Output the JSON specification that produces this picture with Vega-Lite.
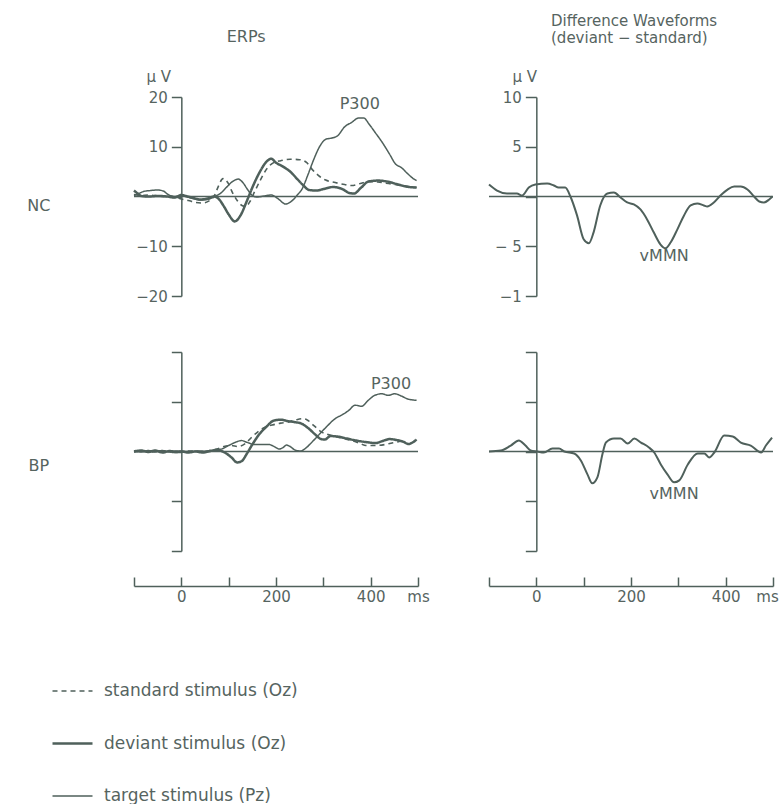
{
  "$schema": "https://vega.github.io/schema/vega-lite/v6.json",
  "padding": {"left": 27, "top": 14, "right": 5, "bottom": 0},
  "background": "white",
  "config": {
    "font": "DejaVu Sans",
    "view": {"stroke": null},
    "axis": {"domainColor": "#4f605b", "tickColor": "#4f605b", "labelColor": "#56645f", "titleColor": "#56645f", "labelFont": "DejaVu Sans", "titleFont": "DejaVu Sans", "labelFontSize": 15, "grid": false, "domainWidth": 1.5, "tickWidth": 1.5, "labelOverlap": false},
    "text": {"font": "DejaVu Sans", "fontSize": 16, "color": "#56645f"},
    "line": {"color": "#4f605b", "interpolate": "monotone"},
    "rule": {"color": "#4f605b", "strokeWidth": 1.5}
  },
  "datasets": {
    "erp": [
      {"subject":"NC","stimulus":"standard stimulus (Oz)","t":-100,"v":0.4},{"subject":"NC","stimulus":"standard stimulus (Oz)","t":-85,"v":0.2},{"subject":"NC","stimulus":"standard stimulus (Oz)","t":-70,"v":0.3},{"subject":"NC","stimulus":"standard stimulus (Oz)","t":-55,"v":0.2},{"subject":"NC","stimulus":"standard stimulus (Oz)","t":-40,"v":0.0},{"subject":"NC","stimulus":"standard stimulus (Oz)","t":-25,"v":0.1},{"subject":"NC","stimulus":"standard stimulus (Oz)","t":-10,"v":-0.2},{"subject":"NC","stimulus":"standard stimulus (Oz)","t":0,"v":-0.5},{"subject":"NC","stimulus":"standard stimulus (Oz)","t":15,"v":-0.8},{"subject":"NC","stimulus":"standard stimulus (Oz)","t":30,"v":-1.2},{"subject":"NC","stimulus":"standard stimulus (Oz)","t":45,"v":-1.3},{"subject":"NC","stimulus":"standard stimulus (Oz)","t":60,"v":-0.8},{"subject":"NC","stimulus":"standard stimulus (Oz)","t":70,"v":0.2},{"subject":"NC","stimulus":"standard stimulus (Oz)","t":78,"v":2.0},{"subject":"NC","stimulus":"standard stimulus (Oz)","t":88,"v":3.6},{"subject":"NC","stimulus":"standard stimulus (Oz)","t":98,"v":2.8},{"subject":"NC","stimulus":"standard stimulus (Oz)","t":108,"v":0.8},{"subject":"NC","stimulus":"standard stimulus (Oz)","t":118,"v":-0.8},{"subject":"NC","stimulus":"standard stimulus (Oz)","t":128,"v":-1.8},{"subject":"NC","stimulus":"standard stimulus (Oz)","t":136,"v":-2.0},{"subject":"NC","stimulus":"standard stimulus (Oz)","t":145,"v":-1.0},{"subject":"NC","stimulus":"standard stimulus (Oz)","t":155,"v":1.0},{"subject":"NC","stimulus":"standard stimulus (Oz)","t":168,"v":3.5},{"subject":"NC","stimulus":"standard stimulus (Oz)","t":180,"v":5.5},{"subject":"NC","stimulus":"standard stimulus (Oz)","t":195,"v":6.8},{"subject":"NC","stimulus":"standard stimulus (Oz)","t":210,"v":7.2},{"subject":"NC","stimulus":"standard stimulus (Oz)","t":230,"v":7.5},{"subject":"NC","stimulus":"standard stimulus (Oz)","t":250,"v":7.4},{"subject":"NC","stimulus":"standard stimulus (Oz)","t":265,"v":6.8},{"subject":"NC","stimulus":"standard stimulus (Oz)","t":275,"v":5.6},{"subject":"NC","stimulus":"standard stimulus (Oz)","t":290,"v":4.2},{"subject":"NC","stimulus":"standard stimulus (Oz)","t":305,"v":3.3},{"subject":"NC","stimulus":"standard stimulus (Oz)","t":325,"v":2.8},{"subject":"NC","stimulus":"standard stimulus (Oz)","t":345,"v":2.4},{"subject":"NC","stimulus":"standard stimulus (Oz)","t":360,"v":2.2},{"subject":"NC","stimulus":"standard stimulus (Oz)","t":378,"v":2.6},{"subject":"NC","stimulus":"standard stimulus (Oz)","t":395,"v":3.0},{"subject":"NC","stimulus":"standard stimulus (Oz)","t":415,"v":2.9},{"subject":"NC","stimulus":"standard stimulus (Oz)","t":438,"v":2.6},{"subject":"NC","stimulus":"standard stimulus (Oz)","t":465,"v":2.2},{"subject":"NC","stimulus":"standard stimulus (Oz)","t":497,"v":1.8},
      {"subject":"NC","stimulus":"deviant stimulus (Oz)","t":-100,"v":1.2},{"subject":"NC","stimulus":"deviant stimulus (Oz)","t":-92,"v":0.6},{"subject":"NC","stimulus":"deviant stimulus (Oz)","t":-85,"v":0.1},{"subject":"NC","stimulus":"deviant stimulus (Oz)","t":-70,"v":0.0},{"subject":"NC","stimulus":"deviant stimulus (Oz)","t":-50,"v":0.1},{"subject":"NC","stimulus":"deviant stimulus (Oz)","t":-30,"v":0.0},{"subject":"NC","stimulus":"deviant stimulus (Oz)","t":-15,"v":-0.2},{"subject":"NC","stimulus":"deviant stimulus (Oz)","t":0,"v":0.3},{"subject":"NC","stimulus":"deviant stimulus (Oz)","t":10,"v":0.1},{"subject":"NC","stimulus":"deviant stimulus (Oz)","t":25,"v":-0.3},{"subject":"NC","stimulus":"deviant stimulus (Oz)","t":40,"v":-0.6},{"subject":"NC","stimulus":"deviant stimulus (Oz)","t":55,"v":-0.4},{"subject":"NC","stimulus":"deviant stimulus (Oz)","t":70,"v":0.0},{"subject":"NC","stimulus":"deviant stimulus (Oz)","t":80,"v":-0.6},{"subject":"NC","stimulus":"deviant stimulus (Oz)","t":90,"v":-2.0},{"subject":"NC","stimulus":"deviant stimulus (Oz)","t":100,"v":-3.6},{"subject":"NC","stimulus":"deviant stimulus (Oz)","t":113,"v":-5.0},{"subject":"NC","stimulus":"deviant stimulus (Oz)","t":125,"v":-3.8},{"subject":"NC","stimulus":"deviant stimulus (Oz)","t":138,"v":-1.0},{"subject":"NC","stimulus":"deviant stimulus (Oz)","t":150,"v":1.8},{"subject":"NC","stimulus":"deviant stimulus (Oz)","t":165,"v":4.8},{"subject":"NC","stimulus":"deviant stimulus (Oz)","t":180,"v":7.0},{"subject":"NC","stimulus":"deviant stimulus (Oz)","t":190,"v":7.6},{"subject":"NC","stimulus":"deviant stimulus (Oz)","t":200,"v":6.8},{"subject":"NC","stimulus":"deviant stimulus (Oz)","t":215,"v":6.0},{"subject":"NC","stimulus":"deviant stimulus (Oz)","t":230,"v":5.0},{"subject":"NC","stimulus":"deviant stimulus (Oz)","t":245,"v":3.5},{"subject":"NC","stimulus":"deviant stimulus (Oz)","t":258,"v":2.2},{"subject":"NC","stimulus":"deviant stimulus (Oz)","t":270,"v":1.3},{"subject":"NC","stimulus":"deviant stimulus (Oz)","t":285,"v":1.2},{"subject":"NC","stimulus":"deviant stimulus (Oz)","t":300,"v":1.5},{"subject":"NC","stimulus":"deviant stimulus (Oz)","t":320,"v":1.9},{"subject":"NC","stimulus":"deviant stimulus (Oz)","t":340,"v":1.5},{"subject":"NC","stimulus":"deviant stimulus (Oz)","t":355,"v":0.7},{"subject":"NC","stimulus":"deviant stimulus (Oz)","t":365,"v":0.6},{"subject":"NC","stimulus":"deviant stimulus (Oz)","t":380,"v":1.8},{"subject":"NC","stimulus":"deviant stimulus (Oz)","t":395,"v":3.0},{"subject":"NC","stimulus":"deviant stimulus (Oz)","t":415,"v":3.2},{"subject":"NC","stimulus":"deviant stimulus (Oz)","t":435,"v":3.0},{"subject":"NC","stimulus":"deviant stimulus (Oz)","t":455,"v":2.5},{"subject":"NC","stimulus":"deviant stimulus (Oz)","t":475,"v":2.0},{"subject":"NC","stimulus":"deviant stimulus (Oz)","t":497,"v":1.8},
      {"subject":"NC","stimulus":"target stimulus (Pz)","t":-100,"v":0.2},{"subject":"NC","stimulus":"target stimulus (Pz)","t":-90,"v":0.6},{"subject":"NC","stimulus":"target stimulus (Pz)","t":-80,"v":1.0},{"subject":"NC","stimulus":"target stimulus (Pz)","t":-65,"v":1.2},{"subject":"NC","stimulus":"target stimulus (Pz)","t":-50,"v":1.3},{"subject":"NC","stimulus":"target stimulus (Pz)","t":-38,"v":1.1},{"subject":"NC","stimulus":"target stimulus (Pz)","t":-28,"v":0.4},{"subject":"NC","stimulus":"target stimulus (Pz)","t":-15,"v":0.0},{"subject":"NC","stimulus":"target stimulus (Pz)","t":0,"v":0.1},{"subject":"NC","stimulus":"target stimulus (Pz)","t":20,"v":-0.3},{"subject":"NC","stimulus":"target stimulus (Pz)","t":40,"v":-0.7},{"subject":"NC","stimulus":"target stimulus (Pz)","t":55,"v":-0.6},{"subject":"NC","stimulus":"target stimulus (Pz)","t":70,"v":0.0},{"subject":"NC","stimulus":"target stimulus (Pz)","t":85,"v":0.8},{"subject":"NC","stimulus":"target stimulus (Pz)","t":95,"v":1.8},{"subject":"NC","stimulus":"target stimulus (Pz)","t":108,"v":3.0},{"subject":"NC","stimulus":"target stimulus (Pz)","t":120,"v":3.5},{"subject":"NC","stimulus":"target stimulus (Pz)","t":130,"v":2.8},{"subject":"NC","stimulus":"target stimulus (Pz)","t":140,"v":1.4},{"subject":"NC","stimulus":"target stimulus (Pz)","t":150,"v":0.2},{"subject":"NC","stimulus":"target stimulus (Pz)","t":160,"v":-0.1},{"subject":"NC","stimulus":"target stimulus (Pz)","t":175,"v":0.1},{"subject":"NC","stimulus":"target stimulus (Pz)","t":190,"v":0.3},{"subject":"NC","stimulus":"target stimulus (Pz)","t":205,"v":-0.5},{"subject":"NC","stimulus":"target stimulus (Pz)","t":220,"v":-1.5},{"subject":"NC","stimulus":"target stimulus (Pz)","t":232,"v":-1.0},{"subject":"NC","stimulus":"target stimulus (Pz)","t":245,"v":0.3},{"subject":"NC","stimulus":"target stimulus (Pz)","t":255,"v":1.5},{"subject":"NC","stimulus":"target stimulus (Pz)","t":268,"v":4.5},{"subject":"NC","stimulus":"target stimulus (Pz)","t":280,"v":7.5},{"subject":"NC","stimulus":"target stimulus (Pz)","t":292,"v":10.0},{"subject":"NC","stimulus":"target stimulus (Pz)","t":305,"v":11.5},{"subject":"NC","stimulus":"target stimulus (Pz)","t":320,"v":11.8},{"subject":"NC","stimulus":"target stimulus (Pz)","t":330,"v":12.2},{"subject":"NC","stimulus":"target stimulus (Pz)","t":345,"v":14.0},{"subject":"NC","stimulus":"target stimulus (Pz)","t":360,"v":14.9},{"subject":"NC","stimulus":"target stimulus (Pz)","t":375,"v":15.8},{"subject":"NC","stimulus":"target stimulus (Pz)","t":385,"v":15.8},{"subject":"NC","stimulus":"target stimulus (Pz)","t":397,"v":14.5},{"subject":"NC","stimulus":"target stimulus (Pz)","t":410,"v":12.8},{"subject":"NC","stimulus":"target stimulus (Pz)","t":425,"v":10.8},{"subject":"NC","stimulus":"target stimulus (Pz)","t":440,"v":8.5},{"subject":"NC","stimulus":"target stimulus (Pz)","t":452,"v":6.6},{"subject":"NC","stimulus":"target stimulus (Pz)","t":465,"v":5.8},{"subject":"NC","stimulus":"target stimulus (Pz)","t":478,"v":4.6},{"subject":"NC","stimulus":"target stimulus (Pz)","t":490,"v":3.6},{"subject":"NC","stimulus":"target stimulus (Pz)","t":497,"v":3.2},
      {"subject":"BP","stimulus":"standard stimulus (Oz)","t":-100,"v":-0.1},{"subject":"BP","stimulus":"standard stimulus (Oz)","t":-80,"v":0.1},{"subject":"BP","stimulus":"standard stimulus (Oz)","t":-60,"v":-0.1},{"subject":"BP","stimulus":"standard stimulus (Oz)","t":-40,"v":0.1},{"subject":"BP","stimulus":"standard stimulus (Oz)","t":-20,"v":-0.1},{"subject":"BP","stimulus":"standard stimulus (Oz)","t":0,"v":0.0},{"subject":"BP","stimulus":"standard stimulus (Oz)","t":20,"v":0.1},{"subject":"BP","stimulus":"standard stimulus (Oz)","t":40,"v":-0.1},{"subject":"BP","stimulus":"standard stimulus (Oz)","t":60,"v":0.2},{"subject":"BP","stimulus":"standard stimulus (Oz)","t":75,"v":0.5},{"subject":"BP","stimulus":"standard stimulus (Oz)","t":90,"v":1.0},{"subject":"BP","stimulus":"standard stimulus (Oz)","t":105,"v":1.2},{"subject":"BP","stimulus":"standard stimulus (Oz)","t":120,"v":1.0},{"subject":"BP","stimulus":"standard stimulus (Oz)","t":135,"v":1.6},{"subject":"BP","stimulus":"standard stimulus (Oz)","t":150,"v":3.0},{"subject":"BP","stimulus":"standard stimulus (Oz)","t":165,"v":4.2},{"subject":"BP","stimulus":"standard stimulus (Oz)","t":180,"v":5.0},{"subject":"BP","stimulus":"standard stimulus (Oz)","t":195,"v":5.4},{"subject":"BP","stimulus":"standard stimulus (Oz)","t":210,"v":5.7},{"subject":"BP","stimulus":"standard stimulus (Oz)","t":225,"v":5.9},{"subject":"BP","stimulus":"standard stimulus (Oz)","t":240,"v":6.3},{"subject":"BP","stimulus":"standard stimulus (Oz)","t":255,"v":6.6},{"subject":"BP","stimulus":"standard stimulus (Oz)","t":265,"v":6.4},{"subject":"BP","stimulus":"standard stimulus (Oz)","t":280,"v":5.2},{"subject":"BP","stimulus":"standard stimulus (Oz)","t":295,"v":4.0},{"subject":"BP","stimulus":"standard stimulus (Oz)","t":310,"v":3.4},{"subject":"BP","stimulus":"standard stimulus (Oz)","t":325,"v":3.0},{"subject":"BP","stimulus":"standard stimulus (Oz)","t":340,"v":2.7},{"subject":"BP","stimulus":"standard stimulus (Oz)","t":360,"v":2.2},{"subject":"BP","stimulus":"standard stimulus (Oz)","t":378,"v":1.6},{"subject":"BP","stimulus":"standard stimulus (Oz)","t":390,"v":1.2},{"subject":"BP","stimulus":"standard stimulus (Oz)","t":410,"v":1.2},{"subject":"BP","stimulus":"standard stimulus (Oz)","t":430,"v":1.4},{"subject":"BP","stimulus":"standard stimulus (Oz)","t":445,"v":1.7},{"subject":"BP","stimulus":"standard stimulus (Oz)","t":460,"v":2.0},{"subject":"BP","stimulus":"standard stimulus (Oz)","t":470,"v":2.2},
      {"subject":"BP","stimulus":"deviant stimulus (Oz)","t":-100,"v":0.0},{"subject":"BP","stimulus":"deviant stimulus (Oz)","t":-85,"v":0.2},{"subject":"BP","stimulus":"deviant stimulus (Oz)","t":-70,"v":-0.1},{"subject":"BP","stimulus":"deviant stimulus (Oz)","t":-55,"v":0.2},{"subject":"BP","stimulus":"deviant stimulus (Oz)","t":-40,"v":-0.2},{"subject":"BP","stimulus":"deviant stimulus (Oz)","t":-25,"v":0.1},{"subject":"BP","stimulus":"deviant stimulus (Oz)","t":-10,"v":-0.1},{"subject":"BP","stimulus":"deviant stimulus (Oz)","t":0,"v":0.0},{"subject":"BP","stimulus":"deviant stimulus (Oz)","t":15,"v":-0.2},{"subject":"BP","stimulus":"deviant stimulus (Oz)","t":30,"v":0.0},{"subject":"BP","stimulus":"deviant stimulus (Oz)","t":45,"v":-0.2},{"subject":"BP","stimulus":"deviant stimulus (Oz)","t":60,"v":0.1},{"subject":"BP","stimulus":"deviant stimulus (Oz)","t":75,"v":0.3},{"subject":"BP","stimulus":"deviant stimulus (Oz)","t":85,"v":0.1},{"subject":"BP","stimulus":"deviant stimulus (Oz)","t":95,"v":-0.4},{"subject":"BP","stimulus":"deviant stimulus (Oz)","t":106,"v":-1.2},{"subject":"BP","stimulus":"deviant stimulus (Oz)","t":118,"v":-2.2},{"subject":"BP","stimulus":"deviant stimulus (Oz)","t":128,"v":-1.9},{"subject":"BP","stimulus":"deviant stimulus (Oz)","t":138,"v":-0.5},{"subject":"BP","stimulus":"deviant stimulus (Oz)","t":150,"v":1.4},{"subject":"BP","stimulus":"deviant stimulus (Oz)","t":165,"v":3.5},{"subject":"BP","stimulus":"deviant stimulus (Oz)","t":180,"v":5.0},{"subject":"BP","stimulus":"deviant stimulus (Oz)","t":195,"v":6.2},{"subject":"BP","stimulus":"deviant stimulus (Oz)","t":210,"v":6.4},{"subject":"BP","stimulus":"deviant stimulus (Oz)","t":226,"v":6.1},{"subject":"BP","stimulus":"deviant stimulus (Oz)","t":240,"v":5.9},{"subject":"BP","stimulus":"deviant stimulus (Oz)","t":254,"v":5.6},{"subject":"BP","stimulus":"deviant stimulus (Oz)","t":268,"v":4.7},{"subject":"BP","stimulus":"deviant stimulus (Oz)","t":282,"v":3.5},{"subject":"BP","stimulus":"deviant stimulus (Oz)","t":295,"v":2.5},{"subject":"BP","stimulus":"deviant stimulus (Oz)","t":303,"v":2.4},{"subject":"BP","stimulus":"deviant stimulus (Oz)","t":315,"v":3.1},{"subject":"BP","stimulus":"deviant stimulus (Oz)","t":330,"v":3.0},{"subject":"BP","stimulus":"deviant stimulus (Oz)","t":350,"v":2.6},{"subject":"BP","stimulus":"deviant stimulus (Oz)","t":370,"v":2.2},{"subject":"BP","stimulus":"deviant stimulus (Oz)","t":390,"v":1.9},{"subject":"BP","stimulus":"deviant stimulus (Oz)","t":410,"v":1.7},{"subject":"BP","stimulus":"deviant stimulus (Oz)","t":425,"v":2.1},{"subject":"BP","stimulus":"deviant stimulus (Oz)","t":440,"v":2.5},{"subject":"BP","stimulus":"deviant stimulus (Oz)","t":455,"v":2.3},{"subject":"BP","stimulus":"deviant stimulus (Oz)","t":468,"v":2.0},{"subject":"BP","stimulus":"deviant stimulus (Oz)","t":480,"v":1.5},{"subject":"BP","stimulus":"deviant stimulus (Oz)","t":490,"v":1.9},{"subject":"BP","stimulus":"deviant stimulus (Oz)","t":497,"v":2.4},
      {"subject":"BP","stimulus":"target stimulus (Pz)","t":-100,"v":0.1},{"subject":"BP","stimulus":"target stimulus (Pz)","t":-85,"v":-0.1},{"subject":"BP","stimulus":"target stimulus (Pz)","t":-70,"v":0.2},{"subject":"BP","stimulus":"target stimulus (Pz)","t":-55,"v":0.0},{"subject":"BP","stimulus":"target stimulus (Pz)","t":-40,"v":0.2},{"subject":"BP","stimulus":"target stimulus (Pz)","t":-25,"v":-0.1},{"subject":"BP","stimulus":"target stimulus (Pz)","t":-10,"v":0.1},{"subject":"BP","stimulus":"target stimulus (Pz)","t":0,"v":0.0},{"subject":"BP","stimulus":"target stimulus (Pz)","t":20,"v":0.0},{"subject":"BP","stimulus":"target stimulus (Pz)","t":40,"v":0.1},{"subject":"BP","stimulus":"target stimulus (Pz)","t":60,"v":0.0},{"subject":"BP","stimulus":"target stimulus (Pz)","t":75,"v":0.3},{"subject":"BP","stimulus":"target stimulus (Pz)","t":88,"v":0.6},{"subject":"BP","stimulus":"target stimulus (Pz)","t":100,"v":1.2},{"subject":"BP","stimulus":"target stimulus (Pz)","t":113,"v":1.8},{"subject":"BP","stimulus":"target stimulus (Pz)","t":127,"v":2.2},{"subject":"BP","stimulus":"target stimulus (Pz)","t":140,"v":1.8},{"subject":"BP","stimulus":"target stimulus (Pz)","t":155,"v":1.4},{"subject":"BP","stimulus":"target stimulus (Pz)","t":170,"v":1.4},{"subject":"BP","stimulus":"target stimulus (Pz)","t":185,"v":1.4},{"subject":"BP","stimulus":"target stimulus (Pz)","t":198,"v":0.9},{"subject":"BP","stimulus":"target stimulus (Pz)","t":207,"v":0.5},{"subject":"BP","stimulus":"target stimulus (Pz)","t":215,"v":0.8},{"subject":"BP","stimulus":"target stimulus (Pz)","t":222,"v":1.3},{"subject":"BP","stimulus":"target stimulus (Pz)","t":230,"v":1.0},{"subject":"BP","stimulus":"target stimulus (Pz)","t":240,"v":0.3},{"subject":"BP","stimulus":"target stimulus (Pz)","t":252,"v":0.1},{"subject":"BP","stimulus":"target stimulus (Pz)","t":262,"v":0.6},{"subject":"BP","stimulus":"target stimulus (Pz)","t":272,"v":1.5},{"subject":"BP","stimulus":"target stimulus (Pz)","t":289,"v":3.2},{"subject":"BP","stimulus":"target stimulus (Pz)","t":305,"v":4.8},{"subject":"BP","stimulus":"target stimulus (Pz)","t":325,"v":6.6},{"subject":"BP","stimulus":"target stimulus (Pz)","t":340,"v":7.4},{"subject":"BP","stimulus":"target stimulus (Pz)","t":353,"v":8.2},{"subject":"BP","stimulus":"target stimulus (Pz)","t":367,"v":9.3},{"subject":"BP","stimulus":"target stimulus (Pz)","t":381,"v":9.1},{"subject":"BP","stimulus":"target stimulus (Pz)","t":395,"v":10.3},{"subject":"BP","stimulus":"target stimulus (Pz)","t":409,"v":11.3},{"subject":"BP","stimulus":"target stimulus (Pz)","t":423,"v":11.6},{"subject":"BP","stimulus":"target stimulus (Pz)","t":437,"v":11.3},{"subject":"BP","stimulus":"target stimulus (Pz)","t":451,"v":11.6},{"subject":"BP","stimulus":"target stimulus (Pz)","t":466,"v":11.1},{"subject":"BP","stimulus":"target stimulus (Pz)","t":480,"v":10.5},{"subject":"BP","stimulus":"target stimulus (Pz)","t":497,"v":10.3}
    ],
    "diff": [
      {"subject":"NC","t":-100,"v":1.2},{"subject":"NC","t":-83,"v":0.6},{"subject":"NC","t":-62,"v":0.3},{"subject":"NC","t":-41,"v":0.3},{"subject":"NC","t":-30,"v":0.1},{"subject":"NC","t":-16,"v":0.9},{"subject":"NC","t":-2,"v":1.2},{"subject":"NC","t":23,"v":1.3},{"subject":"NC","t":37,"v":1.1},{"subject":"NC","t":47,"v":0.9},{"subject":"NC","t":61,"v":0.9},{"subject":"NC","t":72,"v":0.0},{"subject":"NC","t":86,"v":-1.9},{"subject":"NC","t":100,"v":-4.3},{"subject":"NC","t":111,"v":-4.7},{"subject":"NC","t":121,"v":-3.6},{"subject":"NC","t":135,"v":-0.9},{"subject":"NC","t":150,"v":0.3},{"subject":"NC","t":164,"v":0.4},{"subject":"NC","t":178,"v":-0.1},{"subject":"NC","t":192,"v":-0.6},{"subject":"NC","t":206,"v":-0.8},{"subject":"NC","t":220,"v":-1.3},{"subject":"NC","t":234,"v":-2.3},{"subject":"NC","t":248,"v":-3.6},{"subject":"NC","t":262,"v":-4.8},{"subject":"NC","t":273,"v":-5.2},{"subject":"NC","t":284,"v":-4.6},{"subject":"NC","t":298,"v":-3.3},{"subject":"NC","t":312,"v":-1.9},{"subject":"NC","t":326,"v":-0.9},{"subject":"NC","t":340,"v":-0.7},{"subject":"NC","t":354,"v":-0.9},{"subject":"NC","t":361,"v":-1.0},{"subject":"NC","t":375,"v":-0.6},{"subject":"NC","t":389,"v":0.1},{"subject":"NC","t":404,"v":0.7},{"subject":"NC","t":418,"v":1.0},{"subject":"NC","t":432,"v":1.0},{"subject":"NC","t":446,"v":0.7},{"subject":"NC","t":460,"v":0.0},{"subject":"NC","t":471,"v":-0.5},{"subject":"NC","t":481,"v":-0.6},{"subject":"NC","t":492,"v":-0.3},{"subject":"NC","t":499,"v":0.0},
      {"subject":"BP","t":-100,"v":0.0},{"subject":"BP","t":-75,"v":0.1},{"subject":"BP","t":-54,"v":0.6},{"subject":"BP","t":-37,"v":1.1},{"subject":"BP","t":-23,"v":0.6},{"subject":"BP","t":-12,"v":0.1},{"subject":"BP","t":2,"v":0.0},{"subject":"BP","t":16,"v":-0.1},{"subject":"BP","t":34,"v":0.3},{"subject":"BP","t":48,"v":0.3},{"subject":"BP","t":59,"v":0.0},{"subject":"BP","t":80,"v":-0.2},{"subject":"BP","t":94,"v":-0.9},{"subject":"BP","t":108,"v":-2.3},{"subject":"BP","t":118,"v":-3.2},{"subject":"BP","t":129,"v":-2.6},{"subject":"BP","t":140,"v":-0.2},{"subject":"BP","t":147,"v":0.9},{"subject":"BP","t":164,"v":1.3},{"subject":"BP","t":178,"v":1.3},{"subject":"BP","t":193,"v":0.8},{"subject":"BP","t":207,"v":1.3},{"subject":"BP","t":221,"v":0.9},{"subject":"BP","t":238,"v":0.4},{"subject":"BP","t":249,"v":-0.1},{"subject":"BP","t":263,"v":-1.3},{"subject":"BP","t":277,"v":-2.3},{"subject":"BP","t":291,"v":-3.1},{"subject":"BP","t":302,"v":-2.9},{"subject":"BP","t":320,"v":-1.3},{"subject":"BP","t":341,"v":-0.2},{"subject":"BP","t":355,"v":-0.2},{"subject":"BP","t":365,"v":-0.6},{"subject":"BP","t":376,"v":-0.1},{"subject":"BP","t":397,"v":1.6},{"subject":"BP","t":415,"v":1.5},{"subject":"BP","t":432,"v":0.9},{"subject":"BP","t":453,"v":0.6},{"subject":"BP","t":475,"v":-0.1},{"subject":"BP","t":485,"v":0.6},{"subject":"BP","t":498,"v":1.4}
    ]
  },
  "columns": 2,
  "bounds": "flush",
  "spacing": {"row": 56, "column": 71},
  "resolve": {"scale": {"strokeDash": "independent", "strokeWidth": "independent"}, "legend": {"strokeDash": "independent", "strokeWidth": "independent"}},
  "concat": [
    {
      "width": 284, "height": 199,
      "resolve": {"axis": {"x": "independent", "y": "independent"}},
      "layer": [
        {
          "data": {"name": "erp"},
          "transform": [{"filter": "datum.subject === 'NC'"}],
          "mark": {"type": "line"},
          "encoding": {
            "x": {"field": "t", "type": "quantitative", "scale": {"domain": [-100, 500]}, "axis": null},
            "y": {"field": "v", "type": "quantitative", "scale": {"domain": [-20, 20]},
                  "axis": {"orient": "left", "offset": -47.33, "values": [-20, -10, 0, 10, 20], "labelExpr": "datum.value == 0 ? '' : datum.label", "tickSize": 10, "labelPadding": 4, "title": "μ V", "titleAngle": 0, "titleX": -23, "titleY": -21, "titleAlign": "center", "titleBaseline": "middle", "titleFontSize": 15, "titleFontWeight": "normal"}},
            "strokeDash": {"field": "stimulus", "type": "nominal", "scale": {"type": "ordinal", "domain": ["standard stimulus (Oz)", "deviant stimulus (Oz)", "target stimulus (Pz)"], "range": [[5, 4], [1, 0], [1, 0]]}, "legend": null},
            "strokeWidth": {"field": "stimulus", "type": "nominal", "scale": {"type": "ordinal", "domain": ["standard stimulus (Oz)", "deviant stimulus (Oz)", "target stimulus (Pz)"], "range": [1.6, 2.5, 1.5]}, "legend": null}
          }
        },
        {"data": {"values": [{}]}, "mark": {"type": "rule"}, "encoding": {"y": {"datum": 0, "axis": null}}},
        {"data": {"values": [{}]}, "mark": {"type": "text", "text": "P300", "align": "center", "baseline": "middle"}, "encoding": {"x": {"datum": 377, "axis": null}, "y": {"datum": 18.6, "axis": null}}},
        {"data": {"values": [{}]}, "mark": {"type": "text", "text": "ERPs", "align": "center", "baseline": "middle"}, "encoding": {"x": {"datum": 137, "axis": null}, "y": {"datum": 32, "axis": null}}},
        {"data": {"values": [{}]}, "mark": {"type": "text", "text": "NC", "align": "center", "baseline": "middle"}, "encoding": {"x": {"datum": -301, "axis": null}, "y": {"datum": -2, "axis": null}}}
      ]
    },
    {
      "width": 284, "height": 199,
      "resolve": {"axis": {"x": "independent", "y": "independent"}},
      "layer": [
        {
          "data": {"name": "diff"},
          "transform": [{"filter": "datum.subject === 'NC'"}],
          "mark": {"type": "line", "strokeWidth": 2},
          "encoding": {
            "x": {"field": "t", "type": "quantitative", "scale": {"domain": [-100, 500]}, "axis": null},
            "y": {"field": "v", "type": "quantitative", "scale": {"domain": [-10, 10]},
                  "axis": {"orient": "left", "offset": -47.33, "values": [-10, -5, 0, 5, 10], "labelExpr": "datum.value == 0 ? '' : datum.value == -10 ? '−1' : datum.value == -5 ? '− 5' : datum.label", "tickSize": 11, "labelPadding": 4, "title": "μ V", "titleAngle": 0, "titleX": -12, "titleY": -21, "titleAlign": "center", "titleBaseline": "middle", "titleFontSize": 15, "titleFontWeight": "normal"}}
          }
        },
        {"data": {"values": [{}]}, "mark": {"type": "rule"}, "encoding": {"y": {"datum": 0, "axis": null}}},
        {"data": {"values": [{}]}, "mark": {"type": "text", "text": "vMMN", "align": "center", "baseline": "middle"}, "encoding": {"x": {"datum": 270, "axis": null}, "y": {"datum": -6.0, "axis": null}}},
        {"data": {"values": [{}]}, "mark": {"type": "text", "text": "Difference Waveforms", "align": "left", "baseline": "middle", "fontSize": 15}, "encoding": {"x": {"datum": 31, "axis": null}, "y": {"datum": 17.6, "axis": null}}},
        {"data": {"values": [{}]}, "mark": {"type": "text", "text": "(deviant − standard)", "align": "left", "baseline": "middle", "fontSize": 15}, "encoding": {"x": {"datum": 31, "axis": null}, "y": {"datum": 15.9, "axis": null}}}
      ]
    },
    {
      "width": 284, "height": 199,
      "resolve": {"axis": {"x": "independent", "y": "independent"}},
      "layer": [
        {
          "data": {"name": "erp"},
          "transform": [{"filter": "datum.subject === 'BP'"}],
          "mark": {"type": "line"},
          "encoding": {
            "x": {"field": "t", "type": "quantitative", "scale": {"domain": [-100, 500]},
                  "axis": {"orient": "bottom", "offset": 35, "values": [-100, 0, 100, 200, 300, 400, 500], "tickSize": -9, "labelPadding": 12, "labelFlush": false, "labelExpr": "datum.value == 500 ? 'ms' : (datum.value == 0 || datum.value == 200 || datum.value == 400) ? datum.label : ''", "title": null}},
            "y": {"field": "v", "type": "quantitative", "scale": {"domain": [-20, 20]},
                  "axis": {"orient": "left", "offset": -47.33, "values": [-20, -10, 0, 10, 20], "labels": false, "tickSize": 10, "title": null}},
            "strokeDash": {"field": "stimulus", "type": "nominal", "scale": {"type": "ordinal", "domain": ["standard stimulus (Oz)", "deviant stimulus (Oz)", "target stimulus (Pz)"], "range": [[5, 4], [1, 0], [1, 0]]},
                           "legend": {"orient": "none", "legendX": -83, "legendY": 318, "title": null, "symbolType": "stroke", "symbolSize": 1600, "symbolStrokeColor": "#4f605b", "labelFontSize": 17, "labelFont": "DejaVu Sans", "labelColor": "#56645f", "labelOffset": 10, "labelLimit": 0, "rowPadding": 23, "padding": 0}},
            "strokeWidth": {"field": "stimulus", "type": "nominal", "scale": {"type": "ordinal", "domain": ["standard stimulus (Oz)", "deviant stimulus (Oz)", "target stimulus (Pz)"], "range": [1.6, 2.5, 1.5]},
                           "legend": {"orient": "none", "legendX": -83, "legendY": 318, "title": null, "symbolType": "stroke", "symbolSize": 1600, "symbolStrokeColor": "#4f605b", "labelFontSize": 17, "labelFont": "DejaVu Sans", "labelColor": "#56645f", "labelOffset": 10, "labelLimit": 0, "rowPadding": 23, "padding": 0}}
          }
        },
        {"data": {"values": [{}]}, "mark": {"type": "rule"}, "encoding": {"y": {"datum": 0, "axis": null}}},
        {"data": {"values": [{}]}, "mark": {"type": "text", "text": "P300", "align": "center", "baseline": "middle"}, "encoding": {"x": {"datum": 443, "axis": null}, "y": {"datum": 13.6, "axis": null}}},
        {"data": {"values": [{}]}, "mark": {"type": "text", "text": "BP", "align": "center", "baseline": "middle"}, "encoding": {"x": {"datum": -301, "axis": null}, "y": {"datum": -3, "axis": null}}}
      ]
    },
    {
      "width": 284, "height": 199,
      "resolve": {"axis": {"x": "independent", "y": "independent"}},
      "layer": [
        {
          "data": {"name": "diff"},
          "transform": [{"filter": "datum.subject === 'BP'"}],
          "mark": {"type": "line", "strokeWidth": 2},
          "encoding": {
            "x": {"field": "t", "type": "quantitative", "scale": {"domain": [-100, 500]},
                  "axis": {"orient": "bottom", "offset": 35, "values": [-100, 0, 100, 200, 300, 400, 500], "tickSize": -9, "labelPadding": 12, "labelFlush": false, "labelOffset": {"condition": {"test": "datum.value == 500", "value": -6}, "value": 0}, "labelExpr": "datum.value == 500 ? 'ms' : (datum.value == 0 || datum.value == 200 || datum.value == 400) ? datum.label : ''", "title": null}},
            "y": {"field": "v", "type": "quantitative", "scale": {"domain": [-10, 10]},
                  "axis": {"orient": "left", "offset": -47.33, "values": [-10, -5, 0, 5, 10], "labels": false, "tickSize": 11, "title": null}}
          }
        },
        {"data": {"values": [{}]}, "mark": {"type": "rule"}, "encoding": {"y": {"datum": 0, "axis": null}}},
        {"data": {"values": [{}]}, "mark": {"type": "text", "text": "vMMN", "align": "center", "baseline": "middle"}, "encoding": {"x": {"datum": 291, "axis": null}, "y": {"datum": -4.3, "axis": null}}}
      ]
    }
  ]
}
